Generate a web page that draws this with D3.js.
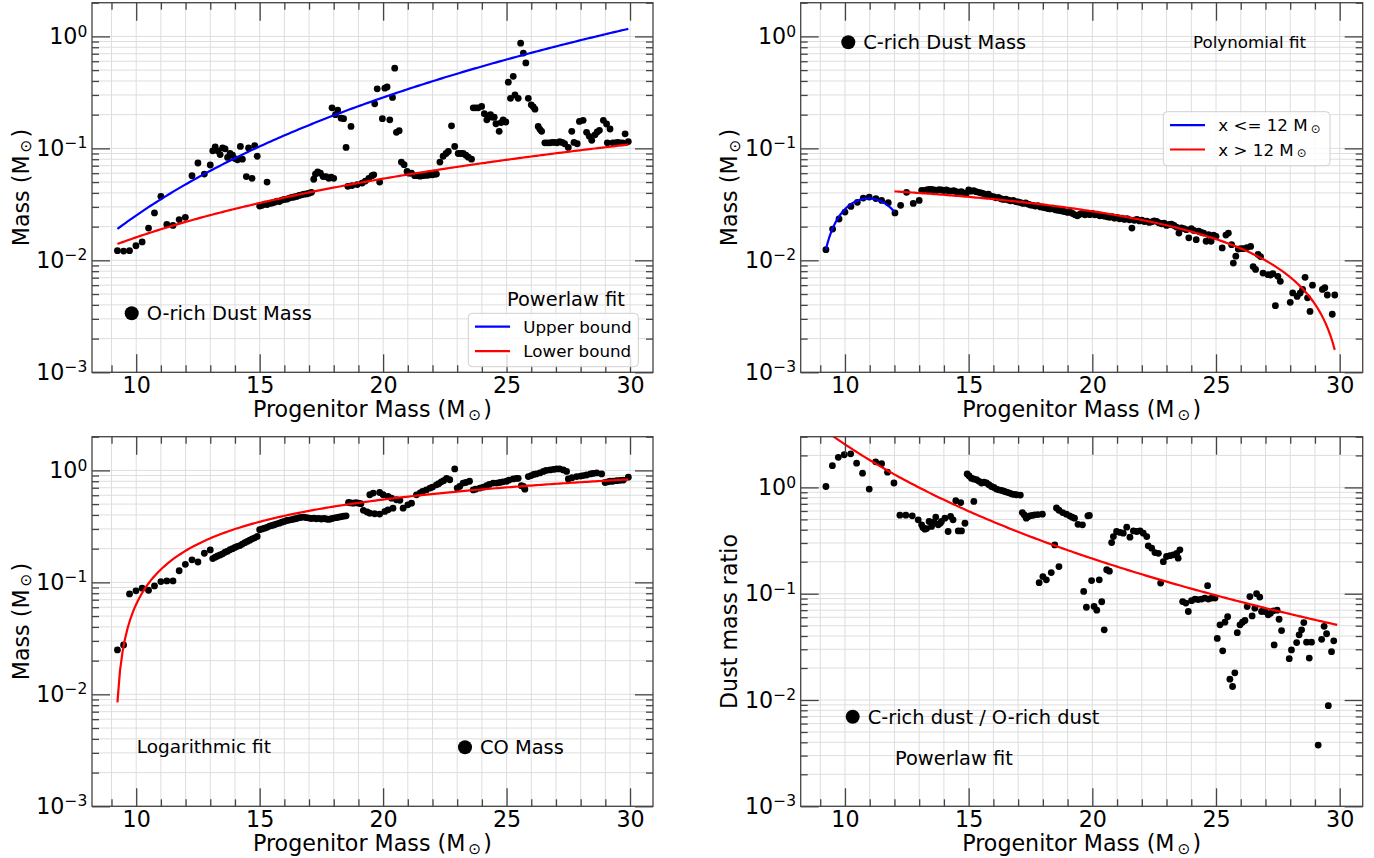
<!DOCTYPE html>
<html>
<head>
<meta charset="utf-8">
<script src="https://cdn.jsdelivr.net/npm/d3@7"></script>
<style>
  body { margin: 0; background: #fff; }
  svg { display: block; font-family: "DejaVu Sans", sans-serif; }
</style>
</head>
<body>
<svg id="chart" width="1374" height="858"></svg>
<script>
// ---- data: [progenitor mass, value] ----
const oRichDust = [
  [9.24,0.0122],[9.49,0.0121],[9.73,0.0122],[9.99,0.0135],[10.24,0.0146],[10.5,0.0194],[10.74,0.0265],
  [11.0,0.0373],[11.24,0.0209],[11.49,0.0205],[11.74,0.0231],[11.99,0.0242],[12.26,0.057],[12.5,0.074],
  [12.76,0.059],[13.0,0.071],[13.1,0.095],[13.2,0.103],[13.3,0.095],[13.4,0.088],[13.5,0.101],[13.6,0.099],
  [13.7,0.083],[13.8,0.09],[13.9,0.087],[14.0,0.081],[14.1,0.079],[14.22,0.104],[14.3,0.08],[14.46,0.056],
  [14.55,0.101],[14.69,0.054],[14.8,0.106],[14.9,0.085],[15.3,0.05],
  [15.0,0.0305],[15.1,0.031],[15.2,0.0318],[15.3,0.0315],[15.4,0.0322],[15.5,0.0325],[15.6,0.033],[15.7,0.0338],
  [15.8,0.0335],[15.9,0.0345],[16.0,0.035],[16.1,0.0352],[16.2,0.036],[16.3,0.0365],[16.4,0.0368],[16.5,0.0372],
  [16.6,0.038],[16.7,0.0385],[16.8,0.039],[16.9,0.0392],[17.0,0.0398],[17.1,0.0405],
  [17.19,0.053],[17.26,0.059],[17.35,0.0615],[17.46,0.06],[17.57,0.056],[17.69,0.056],[17.8,0.054],[17.9,0.0553],[18.0,0.054],
  [17.93,0.23],[18.07,0.2],[18.16,0.22],[18.3,0.186],[18.4,0.184],[18.5,0.102],[18.7,0.157],
  [18.57,0.0458],[18.74,0.0465],[18.95,0.0475],[19.15,0.049],[19.28,0.051],[19.42,0.054],[19.55,0.057],[19.62,0.058],[19.86,0.05],
  [19.66,0.25],[19.76,0.34],[19.97,0.184],[20.07,0.345],[20.16,0.354],[20.27,0.18],[20.38,0.285],[20.47,0.52],
  [20.54,0.139],[20.65,0.144],[20.74,0.0755],[20.85,0.0715],
  [20.97,0.0623],[21.05,0.06],[21.15,0.06],[21.28,0.057],[21.4,0.057],[21.5,0.0565],[21.6,0.057],[21.7,0.0575],
  [21.8,0.0575],[21.9,0.058],[22.0,0.058],[22.1,0.059],[22.16,0.059],
  [22.3,0.0755],[22.43,0.085],[22.55,0.09],[22.64,0.094],[22.77,0.159],[22.9,0.104],[23.04,0.09],[23.14,0.09],
  [23.24,0.09],[23.35,0.087],[23.45,0.0835],[23.58,0.08],
  [23.65,0.23],[23.75,0.23],[23.85,0.23],[23.99,0.237],[24.1,0.204],[24.2,0.18],[24.27,0.195],[24.35,0.2],
  [24.42,0.19],[24.5,0.19],[24.57,0.166],[24.7,0.142],[24.78,0.17],[24.86,0.18],[24.97,0.172],
  [25.07,0.39],[25.16,0.28],[25.27,0.44],[25.34,0.3],[25.47,0.28],[25.57,0.87],[25.68,0.71],[25.78,0.58],
  [25.88,0.28],[26.0,0.245],[26.08,0.235],[26.15,0.224],[26.28,0.157],[26.35,0.148],[26.42,0.142],
  [26.55,0.112],[26.65,0.112],[26.75,0.112],[26.85,0.113],[26.95,0.113],[27.05,0.112],[27.15,0.115],[27.25,0.113],
  [27.35,0.11],[27.5,0.102],[27.64,0.142],[27.73,0.113],[27.86,0.11],[27.95,0.174],[28.1,0.178],[28.24,0.139],
  [28.35,0.128],[28.45,0.118],[28.58,0.132],[28.67,0.14],[28.76,0.145],[28.92,0.178],[29.05,0.165],[29.08,0.112],
  [29.19,0.149],[29.3,0.112],[29.4,0.112],[29.5,0.113],[29.6,0.112],[29.7,0.112],[29.8,0.135],[29.93,0.115]
];

const cRichDust = [
  [9.23,0.01245],[9.5,0.019],[9.76,0.0234],[10.0,0.027],[10.24,0.0303],[10.5,0.033],[10.74,0.036],[10.98,0.0367],
  [11.25,0.0356],[11.48,0.0343],[11.75,0.0327],[12.02,0.0265],[12.25,0.031],[12.49,0.0405],[12.76,0.0322],[13.0,0.0343],
  [13.1,0.0422],[13.2,0.042],[13.3,0.0425],[13.4,0.043],[13.5,0.043],[13.6,0.0425],[13.7,0.042],[13.8,0.0428],
  [13.9,0.0425],[14.0,0.042],[14.1,0.0425],[14.2,0.0418],[14.3,0.0415],[14.4,0.042],[14.5,0.041],[14.6,0.0405],
  [14.7,0.041],[14.8,0.04],[14.9,0.0395],[15.0,0.0425],[15.1,0.0415],[15.2,0.042],[15.3,0.041],[15.4,0.0405],
  [15.5,0.04],[15.6,0.0395],[15.7,0.0385],[15.8,0.039],[15.9,0.0375],[16.0,0.037],[16.1,0.0362],[16.2,0.0365],
  [16.3,0.0355],[16.4,0.035],[16.5,0.0352],[16.6,0.0345],[16.7,0.034],[16.8,0.0343],[16.9,0.0335],[17.0,0.0332],
  [17.1,0.0328],[17.2,0.0322],[17.3,0.0325],[17.4,0.0318],[17.5,0.0312],[17.6,0.031],[17.7,0.0305],[17.8,0.0308],
  [17.9,0.03],[18.0,0.0298],[18.1,0.0295],[18.2,0.029],[18.3,0.0288],[18.4,0.0292],[18.5,0.0283],[18.6,0.028],
  [18.7,0.0278],[18.8,0.0275],[18.9,0.0272],[19.0,0.0268],[19.1,0.027],[19.2,0.0262],[19.3,0.0255],[19.4,0.025],
  [19.5,0.0258],[19.6,0.0262],[19.7,0.0255],[19.8,0.026],[19.9,0.0256],[20.0,0.0262],[20.1,0.0255],[20.2,0.0258],
  [20.3,0.025],[20.4,0.0252],[20.5,0.0248],[20.6,0.0245],[20.7,0.0242],[20.8,0.0245],[20.9,0.0238],[21.0,0.0242],
  [21.1,0.0235],[21.2,0.0238],[21.3,0.0232],[21.4,0.0236],[21.5,0.023],[21.6,0.0194],[21.7,0.0228],[21.8,0.0232],
  [21.9,0.0225],[22.0,0.0228],[22.1,0.0222],[22.2,0.0224],[22.3,0.0218],[22.4,0.0221],[22.5,0.0225],[22.6,0.0223],
  [22.7,0.0216],[22.8,0.0212],[22.9,0.0215],[23.0,0.0205],[23.1,0.0209],[23.2,0.021],[23.3,0.0205],[23.4,0.0198],
  [23.5,0.0175],[23.6,0.0195],[23.7,0.0192],[23.8,0.0188],[23.9,0.0159],[24.0,0.0192],[24.1,0.0185],[24.2,0.0153],
  [24.3,0.0182],[24.4,0.0178],[24.5,0.0175],[24.6,0.0148],[24.7,0.017],[24.8,0.0148],[24.9,0.0168],[25.0,0.0164],
  [25.25,0.0129],[25.4,0.0168],[25.5,0.0175],[25.63,0.0138],[25.7,0.00946],[25.8,0.0109],[25.9,0.0126],[26.0,0.0127],
  [26.1,0.0127],[26.25,0.013],[26.4,0.0133],[26.5,0.0088],[26.6,0.0083],[26.7,0.0113],[26.8,0.0108],[26.9,0.0077],
  [27.1,0.00745],[27.2,0.0074],[27.3,0.0076],[27.4,0.00394],[27.5,0.0072],[27.6,0.0065],[28.0,0.00422],[28.1,0.00512],
  [28.28,0.00476],[28.4,0.0051],[28.5,0.0055],[28.6,0.00705],[28.7,0.00463],[28.8,0.0035],[28.9,0.006],[29.3,0.0055],
  [29.4,0.0057],[29.5,0.0049],[29.7,0.0033],[29.8,0.0049]
];

const coMass = [
  [9.24,0.0249],[9.49,0.0276],[9.73,0.0789],[9.99,0.084],[10.24,0.0887],[10.5,0.085],[10.74,0.093],[11.0,0.1017],
  [11.24,0.103],[11.49,0.103],[11.74,0.127],[11.99,0.145],[12.26,0.159],[12.5,0.152],[12.76,0.182],[13.0,0.195],
  [13.1,0.163],[13.2,0.168],[13.3,0.172],[13.4,0.176],[13.5,0.18],[13.6,0.186],[13.7,0.19],[13.8,0.196],[13.9,0.2],
  [14.0,0.205],[14.1,0.21],[14.2,0.213],[14.3,0.22],[14.4,0.226],[14.5,0.232],[14.6,0.238],[14.7,0.245],[14.8,0.25],
  [14.9,0.257],[15.0,0.295],[15.1,0.3],[15.2,0.305],[15.3,0.31],[15.4,0.318],[15.5,0.322],[15.6,0.327],[15.7,0.333],
  [15.8,0.338],[15.9,0.345],[16.0,0.35],[16.1,0.357],[16.2,0.36],[16.3,0.364],[16.4,0.368],[16.5,0.372],[16.6,0.378],
  [16.7,0.381],[16.8,0.383],[16.9,0.378],[17.0,0.375],[17.1,0.372],[17.2,0.375],[17.3,0.37],[17.4,0.373],[17.5,0.368],
  [17.6,0.372],[17.7,0.368],[17.8,0.365],[17.9,0.37],[18.0,0.375],[18.1,0.378],[18.2,0.382],[18.3,0.386],[18.4,0.39],
  [18.5,0.393],[18.6,0.517],[18.7,0.512],[18.8,0.51],[18.9,0.515],[19.0,0.51],[19.1,0.505],[19.2,0.44],[19.35,0.425],
  [19.46,0.415],[19.66,0.41],[19.86,0.407],[20.07,0.43],[20.2,0.445],[20.4,0.46],
  [19.46,0.606],[19.6,0.627],[19.86,0.635],[20.0,0.606],[20.2,0.585],[20.34,0.565],[20.54,0.547],[20.68,0.54],
  [20.81,0.46],[21.0,0.493],[21.15,0.51],[21.35,0.605],[21.5,0.63],[21.6,0.65],[21.75,0.67],[21.9,0.695],[22.0,0.71],
  [22.16,0.744],[22.25,0.76],[22.36,0.79],[22.45,0.81],[22.57,0.85],[22.7,0.825],[22.9,1.03],[23.0,0.695],[23.1,0.72],
  [23.24,0.77],[23.35,0.78],[23.5,0.8],[23.65,0.67],[23.75,0.68],[23.92,0.695],[24.05,0.71],[24.19,0.73],[24.3,0.75],
  [24.46,0.77],[24.6,0.77],[24.73,0.78],[24.85,0.79],[25.0,0.8],[25.1,0.82],[25.27,0.84],[25.4,0.85],[25.47,0.85],
  [25.6,0.73],[25.68,0.72],[25.74,0.68],[25.88,0.88],[26.0,0.9],[26.1,0.92],[26.2,0.93],[26.35,0.95],[26.49,0.98],
  [26.6,1.0],[26.76,1.01],[26.9,1.02],[27.03,1.03],[27.15,1.03],[27.3,1.01],[27.43,0.98],[27.5,0.84],[27.65,0.86],
  [27.84,0.88],[28.0,0.89],[28.1,0.9],[28.24,0.91],[28.4,0.93],[28.5,0.94],[28.65,0.95],[28.85,0.93],[28.99,0.78],
  [29.1,0.79],[29.19,0.8],[29.3,0.8],[29.46,0.81],[29.6,0.815],[29.73,0.82],[29.93,0.87]
];

const dustRatio = [
  [9.23,1.02],[9.49,1.6],[9.73,1.92],[9.97,2.03],[10.23,2.07],[10.47,1.69],[10.71,1.36],[10.98,0.965],
  [11.24,1.74],[11.48,1.67],[11.72,1.39],[11.98,1.1],[12.22,0.548],[12.46,0.548],[12.72,0.54],[12.96,0.496],
  [13.1,0.445],[13.15,0.42],[13.23,0.405],[13.3,0.41],[13.4,0.478],[13.5,0.43],[13.6,0.47],[13.67,0.526],[13.77,0.445],
  [13.85,0.46],[13.9,0.478],[14.04,0.514],[14.17,0.385],[14.27,0.533],[14.37,0.496],[14.48,0.75],[14.58,0.39],
  [14.68,0.72],[14.71,0.39],[14.85,0.46],[15.21,0.738],
  [14.94,1.34],[15.02,1.28],[15.11,1.22],[15.2,1.2],[15.32,1.18],[15.42,1.14],[15.52,1.1],[15.62,1.12],[15.72,1.1],
  [15.82,1.06],[15.92,1.02],[16.02,1.0],[16.12,0.965],[16.22,0.95],[16.33,0.937],[16.43,0.92],[16.53,0.904],
  [16.63,0.89],[16.73,0.87],[16.83,0.86],[16.93,0.853],[17.09,0.847],
  [17.17,0.58],[17.25,0.55],[17.33,0.514],[17.4,0.53],[17.47,0.54],[17.57,0.545],[17.67,0.552],[17.8,0.555],[17.98,0.56],
  [17.85,0.127],[18.0,0.145],[18.14,0.135],[18.34,0.158],[18.65,0.18],[18.48,0.288],
  [18.55,0.64],[18.65,0.61],[18.8,0.58],[18.95,0.56],[19.08,0.54],[19.18,0.525],[19.28,0.514],[19.42,0.45],
  [19.6,0.445],[19.82,0.54],[19.88,0.545],
  [19.65,0.105],[19.76,0.0746],[19.97,0.133],[20.07,0.076],[20.18,0.07],[20.28,0.135],[20.38,0.084],[20.48,0.0457],
  [20.58,0.168],[20.69,0.163],[20.78,0.303],[20.85,0.345],[20.98,0.385],[21.12,0.377],[21.25,0.371],[21.39,0.423],
  [21.52,0.34],[21.66,0.39],[21.79,0.385],[21.93,0.39],[22.06,0.371],[22.2,0.345],[22.26,0.282],[22.4,0.268],
  [22.53,0.244],[22.67,0.24],[22.76,0.126],[22.87,0.2],[23.0,0.224],[23.14,0.228],[23.27,0.232],[23.41,0.24],
  [23.47,0.216],[23.54,0.259],
  [23.65,0.0844],[23.78,0.0817],[23.88,0.068],[24.01,0.086],[24.15,0.089],[24.28,0.088],[24.42,0.089],[24.55,0.091],
  [24.66,0.119],[24.69,0.089],[24.82,0.091],[24.96,0.091],
  [25.05,0.038],[25.16,0.051],[25.27,0.029],[25.36,0.054],[25.47,0.0607],[25.56,0.0157],[25.67,0.0134],[25.76,0.018],
  [25.86,0.043],[25.97,0.051],[26.07,0.054],[26.17,0.056],[26.26,0.0757],[26.37,0.094],[26.46,0.0618],[26.57,0.0731],
  [26.64,0.1],[26.77,0.093],[26.84,0.068],[26.98,0.068],[27.11,0.0633],[27.2,0.0654],[27.31,0.069],[27.35,0.033],
  [27.47,0.07],[27.55,0.0575],[27.65,0.045],[27.96,0.0245],[28.05,0.0296],[28.26,0.0347],[28.36,0.041],[28.46,0.0457],
  [28.55,0.0535],[28.66,0.035],[28.77,0.0248],[28.86,0.035],[29.13,0.00377],[29.27,0.0372],[29.37,0.0493],[29.47,0.042],
  [29.54,0.00885],[29.67,0.0285],[29.76,0.036]
];

// fit coefficients
const upperFit = { a: 7.96e-6, b: 3.50 };          // y = a * x^b
const lowerFit = { a: 2.92e-4, b: 1.74 };
const polyLow = [-0.904336, 0.171696, -0.00784];   // y = c0 + c1 x + c2 x^2, x <= 12
const polyHigh = [0.04991, -1.078e-4, -5.08e-5];   // x > 12
const logFit = { a: -1.548, b: 0.70 };             // y = a + b ln x
const ratioFit = { a: 9.44e3, b: -3.57 };

const xMajor = [10, 15, 20, 25, 30];
const xMinor = [9, 11, 12, 13, 14, 16, 17, 18, 19, 21, 22, 23, 24, 26, 27, 28, 29];
const decades = [1e-3, 1e-2, 1e-1, 1];
const supLabels = ["\u22123", "\u22122", "\u22121", "0"];

const svg = d3.select("#chart");
const xDomain = [8.21, 30.93];
const TICK = "#444";

function sunLabel(text, before, after, size) {
  text.append("tspan").text(before);
  text.append("tspan").attr("dx", 3).attr("dy", size * 0.11).attr("font-size", size * 0.7).text("\u2299");
  text.append("tspan").attr("dx", 2).attr("dy", -size * 0.11).text(after);
}

function drawPanel(p) {
  const x = d3.scaleLinear().domain(xDomain).range([p.left, p.right]);
  const y = d3.scaleLog().domain([1e-3, p.yMax]).range([p.bottom, p.top]);
  const g = svg.append("g");

  const yMinor = [];
  decades.forEach(d => { for (let m = 2; m <= 9; m++) if (d * m <= p.yMax * 1.0001) yMinor.push(d * m); });

  // grid
  g.append("g").selectAll("line").data(xMajor.concat(xMinor)).join("line")
    .attr("x1", d => x(d)).attr("x2", d => x(d)).attr("y1", p.top).attr("y2", p.bottom)
    .attr("stroke", "#dedede").attr("stroke-width", 1);
  g.append("g").selectAll("line").data(decades.concat(yMinor)).join("line")
    .attr("y1", d => y(d)).attr("y2", d => y(d)).attr("x1", p.left).attr("x2", p.right)
    .attr("stroke", "#dedede").attr("stroke-width", 1);

  const id = "clip" + p.name;
  svg.append("clipPath").attr("id", id).append("rect")
    .attr("x", p.left).attr("y", p.top).attr("width", p.right - p.left).attr("height", p.bottom - p.top);
  const plot = g.append("g").attr("clip-path", `url(#${id})`);

  // axes: inward ticks on all four sides
  const axes = [
    [d3.axisBottom, `translate(0,${p.bottom})`, x, true],
    [d3.axisTop, `translate(0,${p.top})`, x, false],
    [d3.axisLeft, `translate(${p.left},0)`, y, true],
    [d3.axisRight, `translate(${p.right},0)`, y, false]
  ];
  axes.forEach(([fn, tr, sc, labelled]) => {
    const isX = sc === x;
    const major = fn(sc).tickValues(isX ? xMajor : decades).tickSize(-18).tickPadding(isX ? 5 : 4.7)
      .tickFormat(labelled && isX ? d3.format("d") : () => "");
    const minor = fn(sc).tickValues(isX ? xMinor : yMinor).tickSize(-7).tickFormat(() => "");
    [minor, major].forEach(ax => {
      const a = g.append("g").attr("transform", tr).call(ax);
      a.select(".domain").remove();
      a.attr("color", TICK).attr("font-family", null).attr("font-size", 22.2);
      a.selectAll("line").attr("stroke-width", 1.3);
      a.selectAll("text").attr("fill", "#000");
      if (ax === major && labelled && !isX) {
        a.selectAll(".tick text").each(function (d) {
          const t = d3.select(this).text(null);
          t.append("tspan").text("10");
          t.append("tspan").attr("dy", -7.5).attr("font-size", 15.5).text(supLabels[decades.indexOf(d)]);
        });
      }
    });
  });

  // frame
  g.append("rect").attr("x", p.left).attr("y", p.top)
    .attr("width", p.right - p.left).attr("height", p.bottom - p.top)
    .attr("fill", "none").attr("stroke", TICK).attr("stroke-width", 1.3);

  // axis labels
  const xl = g.append("text").attr("x", (p.left + p.right) / 2).attr("y", p.bottom + 45)
    .attr("text-anchor", "middle").attr("font-size", 22.2);
  sunLabel(xl, "Progenitor Mass (M", ")", 22.2);
  const yl = g.append("text").attr("transform", `translate(${p.left - 63.5},${(p.top + p.bottom) / 2}) rotate(-90)`)
    .attr("text-anchor", "middle").attr("font-size", 22.2);
  if (p.ylabel) yl.text(p.ylabel); else sunLabel(yl, "Mass (M", ")", 22.2);

  return { x, y, g, plot };
}

function scatter(panel, data) {
  panel.plot.append("g").selectAll("circle").data(data).join("circle")
    .attr("cx", d => panel.x(d[0])).attr("cy", d => panel.y(d[1])).attr("r", 3.4).attr("fill", "#000");
}

function fitLine(panel, f, x0, x1, color) {
  const xs = d3.range(0, 201).map(i => x0 + (x1 - x0) * i / 200);
  const line = d3.line().x(d => panel.x(d)).y(d => panel.y(f(d)));
  panel.plot.append("path").datum(xs).attr("d", line)
    .attr("fill", "none").attr("stroke", color).attr("stroke-width", 2.2);
}

function note(x, y, str, size) {
  return svg.append("text").attr("x", x).attr("y", y).attr("font-size", size).text(str);
}
function markerNote(cx, cy, str) {
  svg.append("circle").attr("cx", cx).attr("cy", cy).attr("r", 7).attr("fill", "#000");
  note(cx + 15, cy + 7, str, 19.4);
}
function legendBox(x, y, w, h, rows) {
  svg.append("rect").attr("x", x).attr("y", y).attr("width", w).attr("height", h).attr("rx", 4)
    .attr("fill", "#fff").attr("fill-opacity", 0.8).attr("stroke", "#d0d0d0");
  rows.forEach((r, i) => {
    const ly = y + 13.4 + i * 24.4;
    svg.append("line").attr("x1", x + 6.7).attr("x2", x + 41.7).attr("y1", ly).attr("y2", ly)
      .attr("stroke", r.color).attr("stroke-width", 2.2);
    const t = svg.append("text").attr("x", x + 55).attr("y", ly + 6).attr("font-size", 16.7);
    if (r.sun) sunLabel(t, r.label, "", 16.7); else t.text(r.label);
  });
}

const extent = d => d3.extent(d, v => v[0]);
const power = f => v => f.a * Math.pow(v, f.b);
const poly = c => v => c[0] + c[1] * v + c[2] * v * v;

// panel 1: O-rich dust
const p1 = drawPanel({ name: "a", left: 92, right: 653, top: 2.7, bottom: 372.3, yMax: 2 });
scatter(p1, oRichDust);
fitLine(p1, power(upperFit), ...extent(oRichDust), "#0000ff");
fitLine(p1, power(lowerFit), ...extent(oRichDust), "#ff0000");
markerNote(131.7, 313.3, "O-rich Dust Mass");
note(507, 305.8, "Powerlaw fit", 19.4);
legendBox(468.3, 313.3, 170, 53.4, [{ label: "Upper bound", color: "#0000ff" }, { label: "Lower bound", color: "#ff0000" }]);

// panel 2: C-rich dust
const p2 = drawPanel({ name: "b", left: 800.7, right: 1362.7, top: 2.7, bottom: 372.3, yMax: 2 });
scatter(p2, cRichDust);
fitLine(p2, poly(polyLow), d3.min(cRichDust, d => d[0]), 12, "#0000ff");
fitLine(p2, poly(polyHigh), 12, d3.max(cRichDust, d => d[0]), "#ff0000");
markerNote(848.3, 42.3, "C-rich Dust Mass");
note(1193, 47.8, "Polynomial fit", 16.7);
legendBox(1163.3, 111.7, 166.7, 54, [{ label: "x <= 12 M", color: "#0000ff", sun: true }, { label: "x > 12 M", color: "#ff0000", sun: true }]);

// panel 3: CO mass
const p3 = drawPanel({ name: "c", left: 92, right: 653, top: 436.7, bottom: 806.3, yMax: 2 });
scatter(p3, coMass);
fitLine(p3, v => logFit.a + logFit.b * Math.log(v), ...extent(coMass), "#ff0000");
note(136.7, 753.3, "Logarithmic fit", 18.5);
markerNote(465, 747.3, "CO Mass");

// panel 4: dust mass ratio
const p4 = drawPanel({ name: "d", left: 800.7, right: 1362.7, top: 436.7, bottom: 806.3, yMax: 3, ylabel: "Dust mass ratio" });
scatter(p4, dustRatio);
fitLine(p4, power(ratioFit), 9.2, 29.9, "#ff0000");
markerNote(852.7, 716.7, "C-rich dust / O-rich dust");
note(895, 765.3, "Powerlaw fit", 19.4);
</script>
</body>
</html>
